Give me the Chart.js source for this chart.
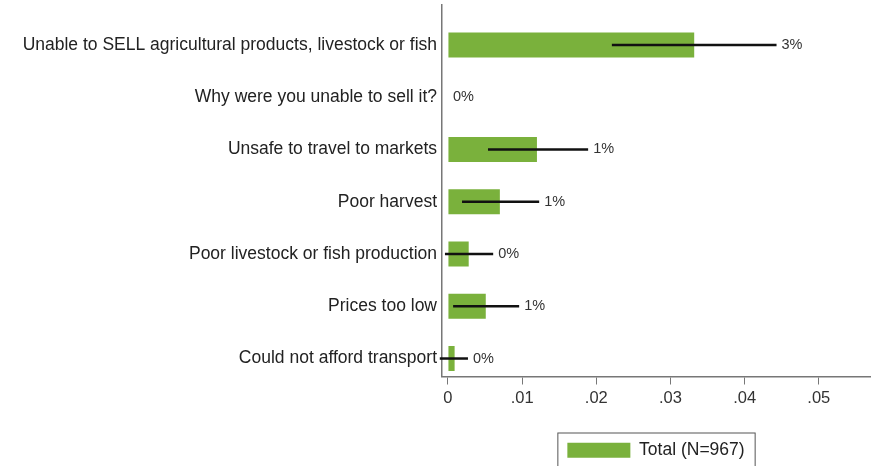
<!DOCTYPE html>
<html>
<head>
<meta charset="utf-8">
<script src="https://cdn.jsdelivr.net/npm/chart.js@4/dist/chart.umd.min.js"></script>
<style>
  html, body { margin: 0; padding: 0; background: #fff; }
  #wrap { width: 877px; height: 466px; }
</style>
</head>
<body>
<div id="wrap"><canvas id="chart"></canvas></div>
<script>
// data
const categories = [
    "Unable to SELL agricultural products, livestock or fish",
    "Why were you unable to sell it?",
    "Unsafe to travel to markets",
    "Poor harvest",
    "Poor livestock or fish production",
    "Prices too low",
    "Could not afford transport",
];
const means = [0.0332, 0, 0.0120, 0.0070, 0.0028, 0.0051, 0.0009];
const ciLow = [0.0221, 0, 0.0054, 0.0019, -0.0004, 0.0007, -0.0011];
const ciHigh = [0.0443, 0, 0.0189, 0.0123, 0.0061, 0.0096, 0.0027];
const xTicks = [0, 0.01, 0.02, 0.03, 0.04, 0.05];
const legendLabel = "Total (N=967)";

const GREEN = "#7ab13c";
const AXIS = "#777";
const FONT = "'Liberation Sans', Arial, sans-serif";

const pctLabels = {
    id: "pctLabels",
    afterDatasetsDraw(chart) {
        const { ctx, scales } = chart;
        ctx.save();
        ctx.font = "14.5px " + FONT;
        ctx.fillStyle = "#333";
        ctx.textAlign = "left";
        ctx.textBaseline = "middle";
        means.forEach((m, i) => {
            const x = scales.x.getPixelForValue(ciHigh[i]) + 5;
            const y = scales.y.getPixelForValue(i);
            ctx.fillText(Math.round(m * 100) + "%", x, y);
        });
        ctx.restore();
    },
};

const legendBorder = {
    id: "legendBorder",
    afterDraw(chart) {
        const hb = chart.legend && chart.legend.legendHitBoxes[0];
        if (!hb) return;
        const ctx = chart.ctx;
        ctx.save();
        ctx.strokeStyle = "#555";
        ctx.lineWidth = 1;
        ctx.strokeRect(hb.left - 9.5, hb.top - 8.5, hb.width + 20, hb.height + 18);
        ctx.restore();
    },
};

new Chart(document.getElementById("chart"), {
    type: "bar",
    data: {
        datasets: [
            {
                label: legendLabel,
                data: means.map((v, i) => ({ x: v, y: i })),
                backgroundColor: GREEN,
                barThickness: 25,
                inflateAmount: 0,
                grouped: false,
                order: 2,
            },
            {
                label: "ci",
                data: ciLow.map((v, i) => ({ x: [v, ciHigh[i]], y: i })),
                backgroundColor: "#111",
                barThickness: 2.5,
                inflateAmount: 0,
                grouped: false,
                clip: false,
                order: 1,
            },
        ],
    },
    options: {
        indexAxis: "y",
        responsive: true,
        maintainAspectRatio: false,
        animation: false,
        layout: { padding: { top: 5, right: 7, bottom: -3, left: 0 } },
        scales: {
            x: {
                type: "linear",
                min: -0.0008,
                max: 0.0569,
                afterBuildTicks: (scale) => {
                    scale.ticks = xTicks.map((v) => ({ value: v }));
                },
                afterFit: (scale) => {
                    scale.height = 30;
                    scale.paddingLeft = 0;
                    scale.paddingRight = 0;
                },
                grid: {
                    display: true,
                    drawOnChartArea: false,
                    drawTicks: true,
                    tickLength: 8,
                    tickColor: AXIS,
                },
                border: { color: AXIS, width: 1.5 },
                ticks: {
                    padding: 4,
                    color: "#333",
                    font: { family: FONT, size: 16.5 },
                    callback: (v) => (v === 0 ? "0" : v.toFixed(2).replace(/^0/, "")),
                },
            },
            y: {
                type: "linear",
                reverse: true,
                offset: false,
                min: -0.764,
                max: 6.344,
                afterBuildTicks: (scale) => {
                    scale.ticks = categories.map((c, i) => ({ value: i }));
                },
                afterFit: (scale) => {
                    scale.width = 442;
                    scale.paddingTop = 0;
                    scale.paddingBottom = 0;
                },
                grid: { display: false, drawTicks: false, offset: false },
                border: { color: AXIS, width: 1.5 },
                ticks: {
                    padding: 5,
                    color: "#222",
                    font: { family: FONT, size: 17.5 },
                    callback: (v) => categories[v],
                },
            },
        },
        plugins: {
            legend: {
                position: "bottom",
                fullSize: false,
                labels: {
                    filter: (item) => item.datasetIndex === 0,
                    boxWidth: 63,
                    boxHeight: 15,
                    padding: 35,
                    color: "#222",
                    font: { family: FONT, size: 17.5 },
                },
            },
            tooltip: { enabled: false },
        },
    },
    plugins: [pctLabels, legendBorder],
});
</script>
</body>
</html>
